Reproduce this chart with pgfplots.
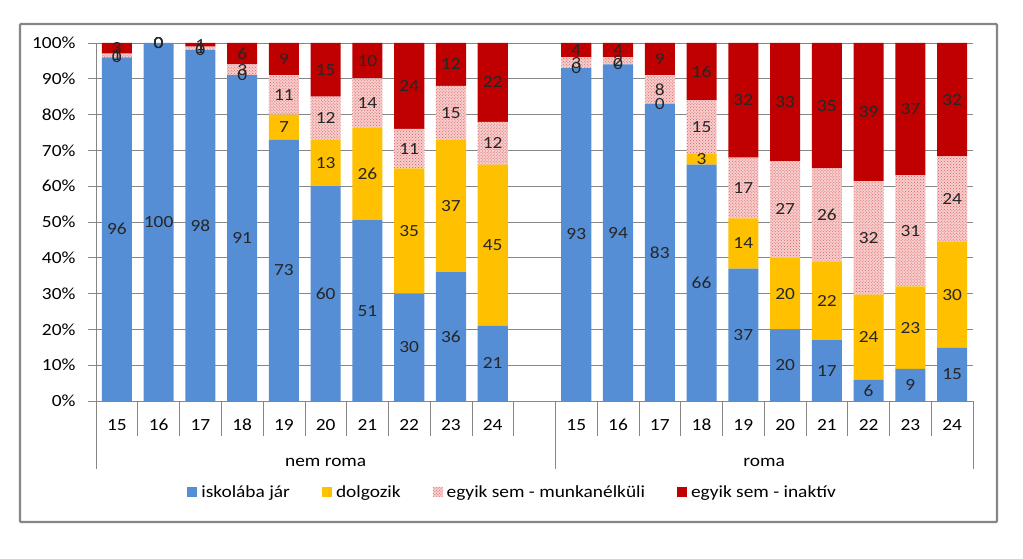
\documentclass[border=0pt]{standalone}
\usepackage{pgfplots}
\pgfplotsset{compat=1.18}
\usepackage{pgfplotstable}
\usepackage{fontspec}
\setmainfont{Carlito}[FakeStretch=1.14]
\usetikzlibrary{patterns}

\definecolor{cblue}{RGB}{85,142,213}
\definecolor{cyellow}{RGB}{255,192,0}
\definecolor{cred}{RGB}{192,0,0}
\definecolor{cpink}{RGB}{246,206,206}
\definecolor{cdot}{RGB}{225,90,90}
\definecolor{cgrid}{RGB}{134,134,134}

% x: category position; a = iskolaba jar, b = dolgozik, c = munkanelkuli, d = inaktiv
\pgfplotstableread{
x  a   b  c  d
0  96  0  1  3
1  100 0  0  0
2  98  0  1  1
3  91  0  3  6
4  73  7  11 9
5  60  13 12 15
6  51  26 14 10
7  30  35 11 24
8  36  37 15 12
9  21  45 12 22
11 93  0  3  4
12 94  0  2  4
13 83  0  8  9
14 66  3  15 16
15 37  14 17 32
16 20  20 27 33
17 17  22 26 35
18 6   24 32 39
19 9   23 31 37
20 15  30 24 32
}\data

\newcommand\tot{(\thisrow{a}+\thisrow{b}+\thisrow{c}+\thisrow{d})}

\pgfplotsset{
  common/.style={scale only axis, width=877bp, height=358bp,
    at={(96bp,158bp)}, anchor=south west,
    xmin=-0.5, xmax=20.5, ymin=0, ymax=100},
}

\begin{document}
\begin{tikzpicture}[font=\fontsize{17bp}{20bp}\selectfont]
\useasboundingbox (0,0) rectangle (1023bp,559bp);
\fill[white] (0,0) rectangle (1023bp,559bp);
\draw[cgrid, line width=2.2bp, rounded corners=1bp] (20bp,37bp) rectangle (997bp,535bp);

\begin{axis}[common,
  ybar stacked, bar width=0.72,
  axis x line*=bottom, axis y line*=left,
  axis line style={cgrid, line width=0.6bp},
  tick align=outside,
  ytick={0,10,...,100},
  yticklabel={\pgfmathparse{int(round(\tick))}\pgfmathresult\%},
  yticklabel style={xshift=-9bp},
  ymajorgrids, grid style={cgrid, line width=0.6bp},
  major tick length=8bp,
  y tick style={cgrid, line width=0.6bp},
  xtick={0,...,20},
  xticklabels={15,16,17,18,19,20,21,22,23,24,,15,16,17,18,19,20,21,22,23,24},
  xticklabel style={anchor=base, yshift=-22bp},
  major x tick style={draw=none},
  minor xtick={0.5,1.5,2.5,3.5,4.5,5.5,6.5,7.5,8.5,9.5,11.5,12.5,13.5,14.5,15.5,16.5,17.5,18.5,19.5},
  minor x tick style={draw=cgrid, line width=0.6bp},
  minor tick length=35bp,
  extra x ticks={-0.5,10.5,20.5}, extra x tick labels={},
  extra x tick style={major x tick style={draw=cgrid, line width=0.6bp}, major tick length=68bp, grid=none},
  legend style={at={(0.475,-0.254)}, anchor=center, draw=none, fill=none,
    /tikz/every even column/.append style={column sep=30bp},
    /tikz/every odd column/.append style={column sep=2bp}},
  legend columns=4,
  legend image code/.code={\fill[#1] (0bp,-5bp) rectangle (10bp,5bp);},
]
\addplot[fill=cblue, draw=none] table[x=x, y expr=\thisrow{a}*100/\tot] {\data};
\addlegendentry{iskolába jár}
\addplot[fill=cyellow, draw=none] table[x=x, y expr=\thisrow{b}*100/\tot] {\data};
\addlegendentry{dolgozik}
\addplot[fill=cpink, draw=none, postaction={pattern=crosshatch dots, pattern color=cdot}] table[x=x, y expr=\thisrow{c}*100/\tot] {\data};
\addlegendentry{egyik sem - munkanélküli}
\addplot[fill=cred, draw=none] table[x=x, y expr=\thisrow{d}*100/\tot] {\data};
\addlegendentry{egyik sem - inaktív}
\end{axis}

\begin{axis}[common, hide axis, clip=false,
  nodes near coords, point meta=explicit symbolic,
  every node near coord/.append style={anchor=center, text=black!85, inner sep=0pt}]
\addplot[draw=none] table[x=x, y expr=\thisrow{a}*50/\tot, meta=a] {\data};
\addplot[draw=none] table[x=x, y expr=(\thisrow{a}+\thisrow{b}/2)*100/\tot, meta=b] {\data};
\addplot[draw=none] table[x=x, y expr=(\thisrow{a}+\thisrow{b}+\thisrow{c}/2)*100/\tot, meta=c] {\data};
\addplot[draw=none] table[x=x, y expr=(\thisrow{a}+\thisrow{b}+\thisrow{c}+\thisrow{d}/2)*100/\tot, meta=d] {\data};
\node at (axis cs:5,0) [yshift=-61bp] {nem roma};
\node at (axis cs:15.5,0) [yshift=-61bp] {roma};
\end{axis}
\end{tikzpicture}
\end{document}
